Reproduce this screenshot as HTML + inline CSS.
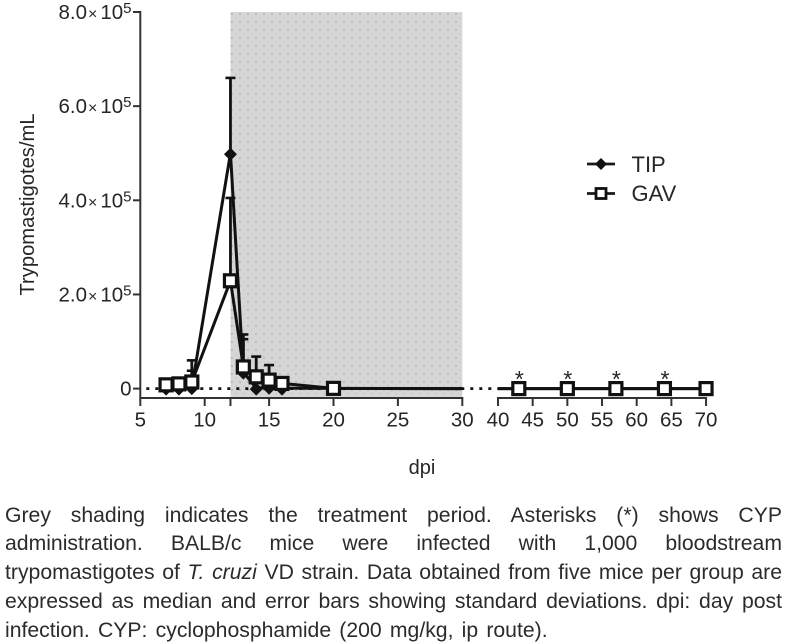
<!DOCTYPE html>
<html lang="en">
<head>
<meta charset="utf-8">
<title>Trypomastigotes per mL by day post infection</title>
<style>
  html, body { margin: 0; padding: 0; background: #fff; }
  #page { position: relative; width: 787px; height: 644px; overflow: hidden; background: #fff; filter: blur(0.35px); }
  #chart { position: absolute; left: 0; top: 0; }
  #chart text { font-family: "Liberation Sans", sans-serif; fill: #262626; }
  #caption { position: absolute; left: 5px; top: 501.5px; width: 777px; font-family: "Liberation Sans", sans-serif; font-size: 21.2px; line-height: 28.8px; color: #2b2b2b; }
  #caption div { text-align: justify; text-align-last: justify; height: 28.8px; }
  #caption div.last { text-align-last: left; word-spacing: 2.3px; }
</style>
</head>
<body>
<div id="page">
  <svg id="chart" width="787" height="495" viewBox="0 0 787 495" xmlns="http://www.w3.org/2000/svg">
    <defs>
      <pattern id="dots" x="230" y="12" width="8" height="8" patternUnits="userSpaceOnUse">
        <rect width="8" height="8" fill="#d6d6d6"></rect>
        <circle cx="2" cy="2" r="1" fill="#b4b4b4"></circle>
        <circle cx="6" cy="6" r="0.8" fill="#c4c4c4"></circle>
      </pattern>
    </defs>
    <g id="shade-layer"></g>
    <g id="axis-layer"></g>
    <g id="series-layer"></g>
    <g id="legend">
      <g>
        <line x1="587" y1="164" x2="615" y2="164" stroke="#1a1a1a" stroke-width="2.8"></line>
        <polygon points="601,158 607,164 601,170 595,164" fill="#111"></polygon>
        <text x="631.5" y="172" font-size="22">TIP</text>
      </g>
      <g>
        <line x1="587" y1="193.5" x2="615" y2="193.5" stroke="#1a1a1a" stroke-width="2.8"></line>
        <rect x="596" y="188.5" width="10" height="10" fill="#fff" stroke="#111" stroke-width="2.8"></rect>
        <text x="631.5" y="201" font-size="22">GAV</text>
      </g>
    </g>
    <text transform="translate(34,204.5) rotate(-90)" text-anchor="middle" font-size="20.2">Trypomastigotes/mL</text>
    <text x="422" y="474" text-anchor="middle" font-size="20">dpi</text>
  </svg>
  <div id="caption">
    <div>Grey shading indicates the treatment period. Asterisks (*) shows CYP</div>
    <div>administration. BALB/c mice were infected with 1,000 bloodstream</div>
    <div>trypomastigotes of <i>T. cruzi</i> VD strain. Data obtained from five mice per group are</div>
    <div>expressed as median and error bars showing standard deviations. dpi: day post</div>
    <div class="last">infection. CYP: cyclophosphamide (200 mg/kg, ip route).</div>
  </div>
</div>
<script>
var days = [7, 8, 9, 12, 13, 14, 15, 16, 20, 43, 50, 57, 64, 70];
var tipValues = [1000, 1000, 2000, 500000, 35000, 1000, 3000, 1000, 500, 0, 0, 0, 0, 0];
var tipErrors = [3000, 18000, 36000, 160000, 80000, 0, 6000, 3000, 0, 0, 0, 0, 0, 0];
var gavValues = [8000, 10000, 14000, 229000, 46000, 25000, 18000, 11000, 500, 0, 0, 0, 0, 0];
var gavErrors = [4000, 8000, 46000, 176000, 59000, 43000, 32000, 4000, 0, 0, 0, 0, 0, 0];
var asteriskDays = [43, 50, 57, 64];
var treatmentPeriod = [12, 30];
var yTickValues = [0, 200000, 400000, 600000, 800000];
var yTickMantissas = ['', '2.0', '4.0', '6.0', '8.0'];
var yTickExponents = ['', '5', '5', '5', '5'];
var xTicksLow = [5, 10, 12, 15, 20, 25, 30];
var xLabelsLow = ['5', '10', '', '15', '20', '25', '30'];
var xTicksHigh = [40, 45, 50, 55, 60, 65, 70];
var xLabelsHigh = ['40', '45', '50', '55', '60', '65', '70'];

var SVGNS = 'http://www.w3.org/2000/svg';
var shadeLayer = document.getElementById('shade-layer');
var axisLayer = document.getElementById('axis-layer');
var seriesLayer = document.getElementById('series-layer');

function xScale(d) {
  if (d <= 30) { return 140.3 + (d - 5) * 12.88; }
  if (d < 40) { return 462.3 + (d - 30) * 3.57; }
  return 498 + (d - 40) * 6.935;
}
function yScale(v) {
  return 388.6 - v * (376.6 / 800000);
}
function make(parent, tag, attrs) {
  var el = document.createElementNS(SVGNS, tag);
  for (var k in attrs) { el.setAttribute(k, attrs[k]); }
  parent.appendChild(el);
  return el;
}

var AXIS_BASE = 398;
var shade = make(shadeLayer, 'rect', {
  x: xScale(treatmentPeriod[0]), y: yScale(800000),
  width: xScale(treatmentPeriod[1]) - xScale(treatmentPeriod[0]),
  height: AXIS_BASE - yScale(800000), fill: 'url(#dots)'
});



var yAxis = make(axisLayer, 'line', { x1: 140.3, y1: yScale(800000) - 1, x2: 140.3, y2: AXIS_BASE + 1, stroke: '#333', 'stroke-width': 2 });



var xAxisLow = make(axisLayer, 'line', { x1: xScale(5), y1: AXIS_BASE, x2: xScale(30) + 1, y2: AXIS_BASE, stroke: '#333', 'stroke-width': 2 });



var xAxisHigh = make(axisLayer, 'line', { x1: xScale(40) - 1, y1: AXIS_BASE, x2: xScale(70) + 1, y2: AXIS_BASE, stroke: '#333', 'stroke-width': 2 });



yTickValues.forEach(function (v, i) {
  var tick = make(axisLayer, 'line', { x1: 133, y1: yScale(v), x2: 140.3, y2: yScale(v), stroke: '#333', 'stroke-width': 2 });
  
  
  var label = make(axisLayer, 'text', { x: 131.5, y: yScale(v) + 7, 'text-anchor': 'end', 'font-size': 20.5 });
  
  
  if (yTickMantissas[i] === '') {
    label.textContent = '0';
  } else {
    var a = make(label, 'tspan', {});
    a.textContent = yTickMantissas[i];
    var b = make(label, 'tspan', { 'font-size': 16, dx: 1 });
    b.textContent = '\u00d7';
    var c = make(label, 'tspan', { dx: 3 });
    c.textContent = '10';
    var e = make(label, 'tspan', { 'font-size': 15, dy: -6 });
    e.textContent = yTickExponents[i];
  }
});

function drawXTicks(ticks, labels) {
  ticks.forEach(function (t, i) {
    var tick = make(axisLayer, 'line', { x1: xScale(t), y1: AXIS_BASE, x2: xScale(t), y2: AXIS_BASE + 8, stroke: '#333', 'stroke-width': 2 });
    
    
    if (labels[i] !== '') {
      var label = make(axisLayer, 'text', { x: xScale(t), y: AXIS_BASE + 28.5, 'text-anchor': 'middle', 'font-size': 20.5 });
      
      
      label.textContent = labels[i];
    }
  });
}
drawXTicks(xTicksLow, xLabelsLow);
drawXTicks(xTicksHigh, xLabelsHigh);

var dotted = make(seriesLayer, 'line', { x1: xScale(5) + 6, y1: yScale(0), x2: xScale(40), y2: yScale(0), stroke: '#111', 'stroke-width': 2.8, 'stroke-dasharray': '3 6' });



function drawErrors(values, errors, name) {
  days.forEach(function (d, i) {
    if (errors[i] <= 0) { return; }
    var stem = make(seriesLayer, 'line', { x1: xScale(d), y1: yScale(values[i]), x2: xScale(d), y2: yScale(values[i] + errors[i]), stroke: '#111', 'stroke-width': 2.8 });
    
    
    var cap = make(seriesLayer, 'line', { x1: xScale(d) - 5, y1: yScale(values[i] + errors[i]), x2: xScale(d) + 5, y2: yScale(values[i] + errors[i]), stroke: '#111', 'stroke-width': 2.6 });
    
    
  });
}
function drawLine(values, name) {
  var segments = [[], []];
  days.forEach(function (d, i) {
    segments[d <= 20 ? 0 : 1].push(xScale(d) + ',' + yScale(values[i]));
  });
  segments[0].push(xScale(30) + ',' + yScale(0));
  segments[1].unshift(xScale(40) + ',' + yScale(0));
  segments.forEach(function (pts) {
    var line = make(seriesLayer, 'polyline', { points: pts.join(' '), fill: 'none', stroke: '#111', 'stroke-width': 3, 'stroke-linejoin': 'round' });
    
    
  });
}

drawErrors(tipValues, tipErrors, 'tip');
drawLine(tipValues, 'tip');
days.forEach(function (d, i) {
  var cx = xScale(d);
  var cy = yScale(tipValues[i]) + 1;
  var marker = make(seriesLayer, 'polygon', {
    points: cx + ',' + (cy - 6.5) + ' ' + (cx + 6.5) + ',' + cy + ' ' + cx + ',' + (cy + 6.5) + ' ' + (cx - 6.5) + ',' + cy,
    fill: '#111'
  });
  
  
});

drawErrors(gavValues, gavErrors, 'gav');
drawLine(gavValues, 'gav');
days.forEach(function (d, i) {
  var marker = make(seriesLayer, 'rect', {
    x: xScale(d) - 6, y: yScale(gavValues[i]) - 6, width: 12, height: 12,
    fill: '#fff', stroke: '#111', 'stroke-width': 3.2
  });
  
  
});

asteriskDays.forEach(function (d) {
  var star = make(seriesLayer, 'text', { x: xScale(d) + 0.5, y: yScale(0) - 1.5, 'text-anchor': 'middle', 'font-size': 23 });
  
  
  star.textContent = '*';
});
</script>
</body>
</html>
